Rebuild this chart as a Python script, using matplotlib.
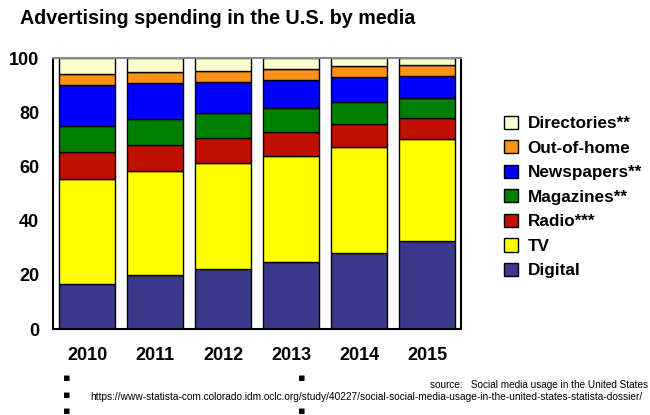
import numpy as np
import matplotlib.pyplot as plt

years = ["2010", "2011", "2012", "2013", "2014", "2015"]
digital = [16.6, 19.9, 22.1, 24.8, 27.9, 32.5]
tv = [38.6, 38.3, 39.0, 39.0, 39.1, 37.6]
radio = [10.0, 9.7, 9.4, 8.9, 8.5, 7.8]
magazines = [9.8, 9.6, 9.2, 8.8, 8.4, 7.3]
newspapers = [15.0, 13.2, 11.4, 10.4, 9.2, 8.2]
out_of_home = [4.1, 4.1, 4.1, 4.0, 4.1, 3.9]
directories = [5.9, 5.2, 4.8, 4.1, 2.8, 2.7]

series = [
    ("Digital", digital, "#3a3a8c"),
    ("TV", tv, "#ffff00"),
    ("Radio***", radio, "#c01000"),
    ("Magazines**", magazines, "#008000"),
    ("Newspapers**", newspapers, "#0000ff"),
    ("Out-of-home", out_of_home, "#ff9018"),
    ("Directories**", directories, "#ffffd0"),
]

plt.rcParams["font.family"] = ["Liberation Sans", "DejaVu Sans"]
plt.rcParams["font.weight"] = "bold"

fig = plt.figure(figsize=(6.5, 4.15), dpi=100)
ax = fig.add_axes([53 / 650, 1 - 329 / 415, 408 / 650, 271 / 415])

x = np.arange(len(years))
bottom = np.zeros(len(years))
handles = []
for name, vals, color in series:
    b = ax.bar(x, vals, 0.82, bottom=bottom, color=color, edgecolor="black",
               linewidth=1.0, label=name)
    handles.append(b)
    bottom += np.array(vals)

ax.set_xlim(-0.5, 5.5)
ax.set_ylim(0, 100)
ax.set_yticks([0, 20, 40, 60, 80, 100])
ax.set_xticks(x)
ax.set_xticklabels(years)
ax.tick_params(axis="both", length=0, labelsize=13)
ax.tick_params(axis="x", pad=13)
ax.tick_params(axis="y", pad=10)
for lab in ax.get_xticklabels() + ax.get_yticklabels():
    lab.set_fontweight("bold")
for side in ["left", "bottom", "right"]:
    ax.spines[side].set_color("black")
    ax.spines[side].set_linewidth(1.5)
ax.spines["top"].set_color("#888888")
ax.spines["top"].set_linewidth(1.5)

fig.text(20 / 650, 1 - 18 / 415, "Advertising spending in the U.S. by media",
         fontsize=14.2, fontweight="bold", va="center", ha="left")

leg = fig.legend(handles[::-1], [s[0] for s in series][::-1],
                 loc="upper left", bbox_to_anchor=(497 / 650, 1 - 109 / 415),
                 frameon=False, fontsize=12.3, handlelength=0.8, handleheight=0.8,
                 handletextpad=0.6, labelspacing=0.53, borderaxespad=0)
for t in leg.get_texts():
    t.set_fontweight("bold")

dots = [(67, 378), (67, 395), (67, 411), (302, 378), (302, 411)]
for xx, yy in dots:
    fig.text(xx / 650, 1 - yy / 415, "\u25aa", fontsize=8, ha="center", va="center",
             family="DejaVu Sans")

fig.text(648 / 650, 1 - 385 / 415, "source:   Social media usage in the United States",
         fontsize=7.2, fontweight="normal", ha="right", va="center")
fig.text(90 / 650, 1 - 397 / 415,
         "https://www-statista-com.colorado.idm.oclc.org/study/40227/social-social-media-usage-in-the-united-states-statista-dossier/",
         fontsize=7.3, fontweight="normal", ha="left", va="center")

fig.savefig("out.png", dpi=100)
